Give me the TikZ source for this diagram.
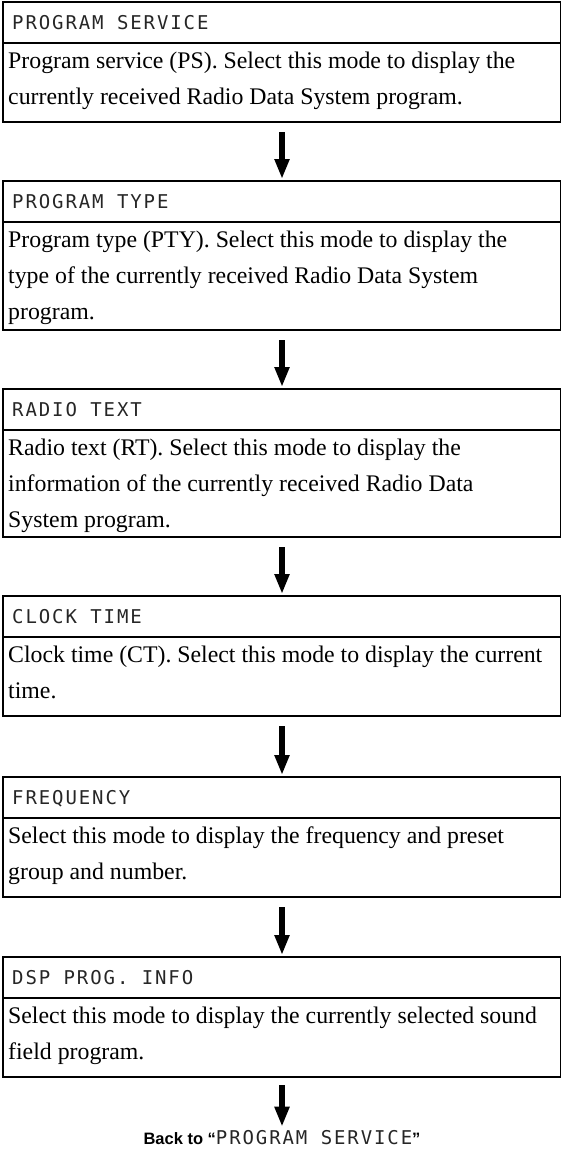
\documentclass[tikz,border=0pt]{standalone}
\usepackage{fontspec}
\setmainfont{Liberation Serif}
\newfontfamily\lcdfont[LetterSpace=10]{DejaVu Sans Mono}
\newfontfamily\backfont{Liberation Sans}
\usetikzlibrary{arrows.meta}
\tikzset{
  panel/.style={draw, line width=2pt, minimum width=558pt, inner sep=0pt, outer sep=0pt, anchor=north west},
  divider/.style={line width=2pt},
  hdr/.style={anchor=base west, inner sep=0pt, font=\lcdfont\fontsize{19}{20}\selectfont, text=black!85},
  body/.style={anchor=north west, inner sep=0pt, align=left, font=\fontsize{23.8}{36}\selectfont},
  flow/.style={line width=6pt, -{Triangle[width=14pt,length=20pt]}},
  backtext/.style={anchor=base, inner sep=0pt, font=\fontsize{16.5}{18}\selectfont},
}
\newcommand{\mkpanel}[6]{% name, top, height, header, body
  \node[panel, minimum height=#3pt] (#1) at (3,#2) {};
  \draw[divider] ([yshift=-41pt]#1.north west) -- ([yshift=-41pt]#1.north east);
  \node[hdr] (#1h) at ([xshift=9pt,yshift=-27pt]#1.north west) {#4};
  \node[body] (#1t) at ([xshift=5pt,yshift=-41pt]#1.north west) {\strut #5};
}
\begin{document}
\begin{tikzpicture}[x=1pt,y=-1pt]
\useasboundingbox (0,0) rectangle (560,1149);
\mkpanel{b1}{2}{120}{PROGRAM SERVICE}{Program service (PS). Select this mode to display the\\ currently received Radio Data System program.}{}
\mkpanel{b2}{181}{149}{PROGRAM TYPE}{Program type (PTY). Select this mode to display the\\ type of the currently received Radio Data System\\ program.}{}
\mkpanel{b3}{389}{148}{RADIO TEXT}{Radio text (RT). Select this mode to display the\\ information of the currently received Radio Data\\ System program.}{}
\mkpanel{b4}{596}{120}{CLOCK TIME}{Clock time (CT). Select this mode to display the current\\ time.}{}
\mkpanel{b5}{777}{120}{FREQUENCY}{Select this mode to display the frequency and preset\\ group and number.}{}
\mkpanel{b6}{957}{120}{DSP PROG. INFO}{Select this mode to display the currently selected sound\\ field program.}{}
\node[backtext] (back) at (282,1144) {{\backfont\bfseries Back to “}{\lcdfont\fontsize{19}{20}\selectfont\color{black!85}PROGRAM SERVICE}{\backfont\bfseries ”}};
\draw[flow] ([yshift=-10pt]b1.south) -- ([yshift=2pt]b2.north);
\draw[flow] ([yshift=-10pt]b2.south) -- ([yshift=2pt]b3.north);
\draw[flow] ([yshift=-10pt]b3.south) -- ([yshift=2pt]b4.north);
\draw[flow] ([yshift=-10pt]b4.south) -- ([yshift=2pt]b5.north);
\draw[flow] ([yshift=-10pt]b5.south) -- ([yshift=2pt]b6.north);
\draw[flow] ([yshift=-8pt]b6.south) -- ([yshift=3pt]back.north);
\end{tikzpicture}
\end{document}
